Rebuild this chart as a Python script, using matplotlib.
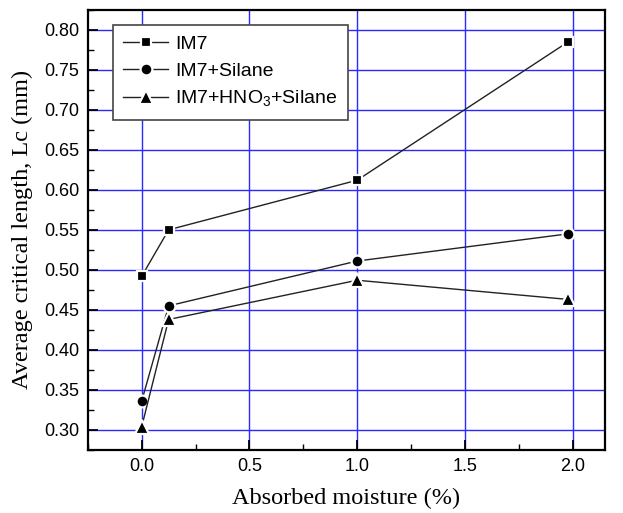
import matplotlib.pyplot as plt
from matplotlib.ticker import MultipleLocator

moisture = [0.0, 0.125, 1.0, 1.98]
lc_im7 = [0.492, 0.550, 0.612, 0.785]
lc_silane = [0.336, 0.455, 0.511, 0.545]
lc_hno3 = [0.304, 0.438, 0.487, 0.463]
labels = ["IM7", "IM7+Silane", "IM7+HNO$_3$+Silane"]

plt.rcParams['font.family'] = ['Liberation Sans', 'DejaVu Sans']
plt.rcParams['mathtext.fontset'] = 'custom'
plt.rcParams['mathtext.rm'] = 'Liberation Sans'

fig = plt.figure(figsize=(6.23, 5.13), dpi=100)
ax = fig.add_axes([0.141, 0.123, 0.83, 0.858])

sizes = {'s': 7.5, 'o': 8.5, '^': 9.5}
for y, m, lab in zip([lc_im7, lc_silane, lc_hno3], ['s', 'o', '^'], labels):
    ax.plot(moisture, y, color='#222222', lw=1.0, marker=m, ms=sizes[m],
            mfc='black', mec='white', mew=1.6, label=lab, zorder=3)

ax.set_xlim(-0.25, 2.15)
ax.set_ylim(0.275, 0.825)
ax.xaxis.set_major_locator(MultipleLocator(0.5))
ax.xaxis.set_minor_locator(MultipleLocator(0.25))
ax.yaxis.set_major_locator(MultipleLocator(0.05))
ax.yaxis.set_minor_locator(MultipleLocator(0.025))
ax.grid(True, which='major', color='#2828ff', lw=1.0, zorder=0)
ax.tick_params(which='both', direction='in', labelsize=13, pad=6)
ax.tick_params(which='major', length=7, width=1.3)
ax.tick_params(which='minor', length=4, width=1.0)
ax.yaxis.set_major_formatter(plt.FormatStrFormatter('%.2f'))
ax.xaxis.set_major_formatter(plt.FormatStrFormatter('%.1f'))
for s in ax.spines.values():
    s.set_linewidth(1.6)

ax.set_xlabel("Absorbed moisture (%)", family='Liberation Serif', fontsize=17.5, labelpad=9)
ax.set_ylabel("Average critical length, Lc (mm)", family='Liberation Serif', fontsize=17.5, labelpad=8)

leg = ax.legend(loc='upper left', bbox_to_anchor=(0.048, 0.966), fontsize=14,
                frameon=True, fancybox=False, edgecolor='#444444', framealpha=1,
                handlelength=2.3, handletextpad=0.35, borderpad=0.55,
                labelspacing=0.46, borderaxespad=0)
leg.get_frame().set_linewidth(1.2)

fig.savefig("out.png", dpi=100)
